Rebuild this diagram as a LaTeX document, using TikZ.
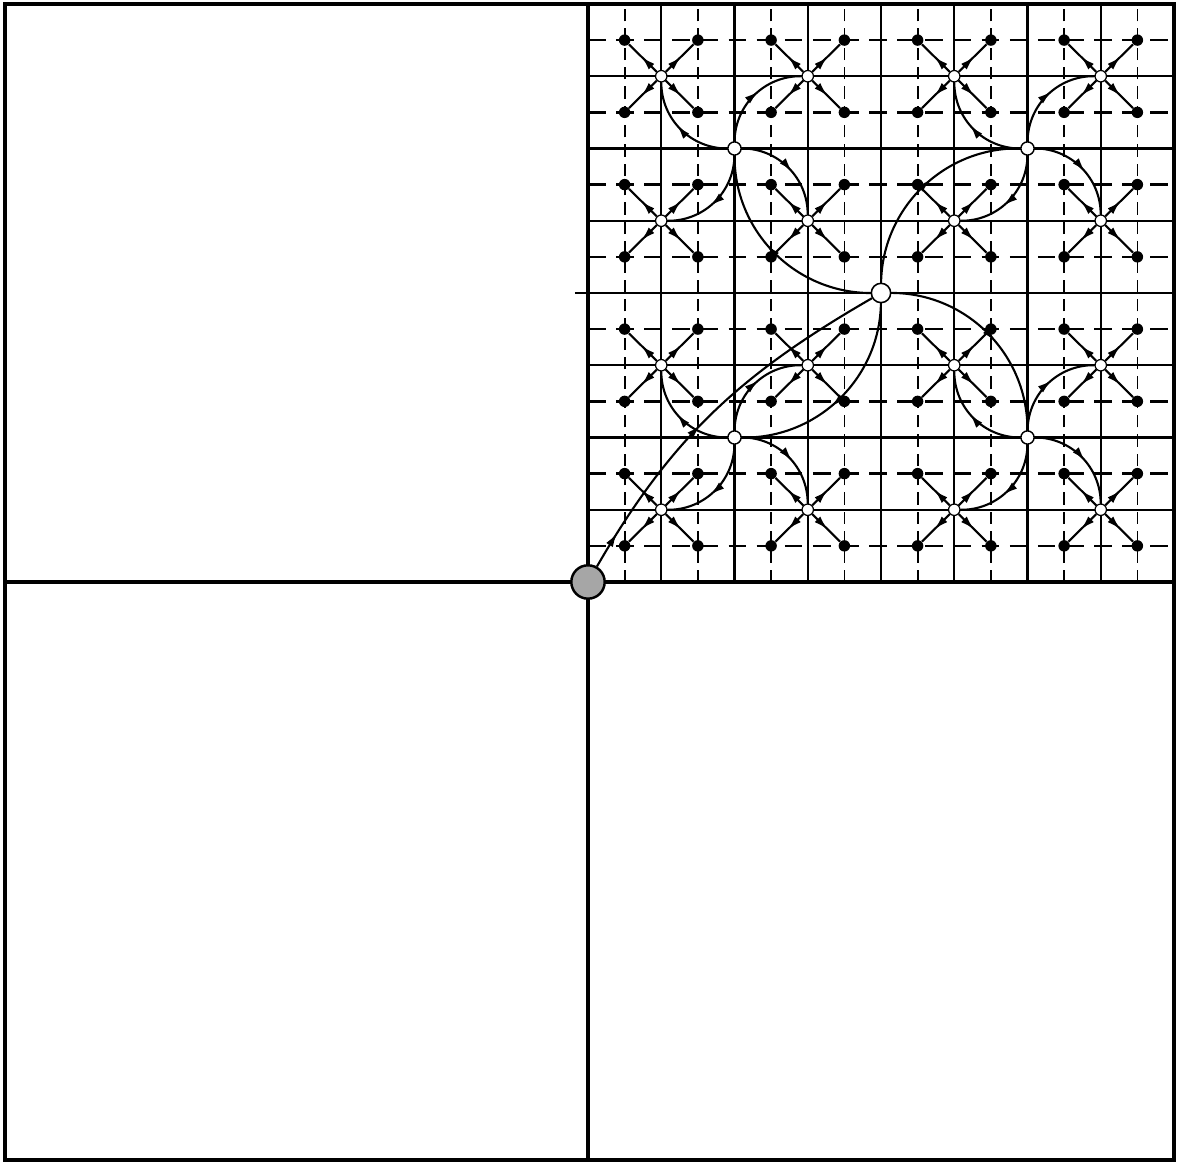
\documentclass[tikz,border=0pt]{standalone}
\usetikzlibrary{decorations.markings,arrows.meta}

\tikzstyle{frame} = [line width=1.8pt]
\tikzstyle{gridline} = [line width=1.3pt]
\tikzstyle{hdash} = [line width=1.5pt, dash pattern=on 10pt off 6pt]
\tikzstyle{vdash} = [line width=1pt, dash pattern=on 7pt off 4pt]
\tikzstyle{leaf} = [
    circle, fill=black,
    inner sep=0pt, minimum size=6.5pt
]
\tikzstyle{tap} = [
    circle, draw=black, fill=white, line width=0.7pt,
    inner sep=0pt, minimum size=6.5pt
]
\tikzstyle{branch} = [
    circle, draw=black, fill=white, line width=0.8pt,
    inner sep=0pt, minimum size=7.5pt
]
\tikzstyle{hub} = [
    circle, draw=black, fill=white, line width=0.9pt,
    inner sep=0pt, minimum size=11pt
]
\tikzstyle{source} = [
    circle, draw=black, fill=gray!70, line width=1.4pt,
    inner sep=0pt, minimum size=19pt
]
\tikzstyle{flow} = [
    line width=1.2pt, postaction={decorate},
    decoration={markings, mark=at position 0.55 with {\arrow{Latex[length=8pt,width=4.5pt]}}}
]
\tikzstyle{trunk} = [
    line width=1.2pt, postaction={decorate},
    decoration={markings,
        mark=at position 0.1 with {\arrow{Latex[length=8pt,width=4.5pt]}},
        mark=at position 0.45 with {\arrow{Latex[length=8pt,width=4.5pt]}}}
]

\begin{document}
\begin{tikzpicture}
    \useasboundingbox (0,0) rectangle (23.54cm,23.24cm);

    % frame and quadrant lines
    \draw [frame] (0.1cm,0.04cm) rectangle (23.48cm,23.16cm);
    \draw [frame] (11.76cm,0.04cm) -- (11.76cm,23.16cm);
    \draw [frame] (0.1cm,11.6cm) -- (23.48cm,11.6cm);

    \begin{scope}[shift={(11.76cm,11.6cm)}, x=1.465cm, y=1.445cm]
    % grid of the upper right quadrant
    \foreach \k in {0.5,1.5,...,7.5} {
        \draw [vdash] (\k,0) -- (\k,8);
        \draw [hdash] (0,\k) -- (8,\k);
    }
    \foreach \k in {1,...,7} {
        \draw [gridline] (\k,0) -- (\k,8);
        \draw [gridline] (0,\k) -- (8,\k);
    }
    \draw [gridline] (-0.18,4) -- (0,4);

    % nodes
    \foreach \i in {1,3,5,7} {
        \foreach \j in {1,3,5,7} {
            \node (t\i\j) [tap] at (\i,\j) {};
            \node (t\i\j-ne) [leaf] at (\i+0.5,\j+0.5) {};
            \node (t\i\j-nw) [leaf] at (\i-0.5,\j+0.5) {};
            \node (t\i\j-se) [leaf] at (\i+0.5,\j-0.5) {};
            \node (t\i\j-sw) [leaf] at (\i-0.5,\j-0.5) {};
        }
    }
    \foreach \i/\j in {2/2,2/6,6/2,6/6}
        \node (b\i\j) [branch] at (\i,\j) {};
    \node (hub) [hub] at (4,4) {};
    \node (src) [source] at (0,0) {};

    % leaves
    \foreach \i in {1,3,5,7} {
        \foreach \j in {1,3,5,7} {
            \foreach \k in {ne,nw,se,sw}
                \draw [flow] (t\i\j) -- (t\i\j-\k);
        }
    }

    % branches to taps
    \foreach \i/\j in {2/2,2/6,6/2,6/6} {
        \pgfmathtruncatemacro\il{\i-1}
        \pgfmathtruncatemacro\ir{\i+1}
        \pgfmathtruncatemacro\jd{\j-1}
        \pgfmathtruncatemacro\ju{\j+1}
        \draw [flow] (b\i\j) to[bend left=45] (t\ir\ju);
        \draw [flow] (b\i\j) to[bend left=45] (t\il\ju);
        \draw [flow] (b\i\j) to[bend left=45] (t\il\jd);
        \draw [flow] (b\i\j) to[bend left=45] (t\ir\jd);
    }

    % hub to branches
    \foreach \b in {b66,b26,b22,b62}
        \draw [flow] (hub) to[bend left=45] (\b);

    % source to hub
    \draw [trunk] (src) to[out=60,in=-150] (hub);
    \end{scope}
\end{tikzpicture}
\end{document}
